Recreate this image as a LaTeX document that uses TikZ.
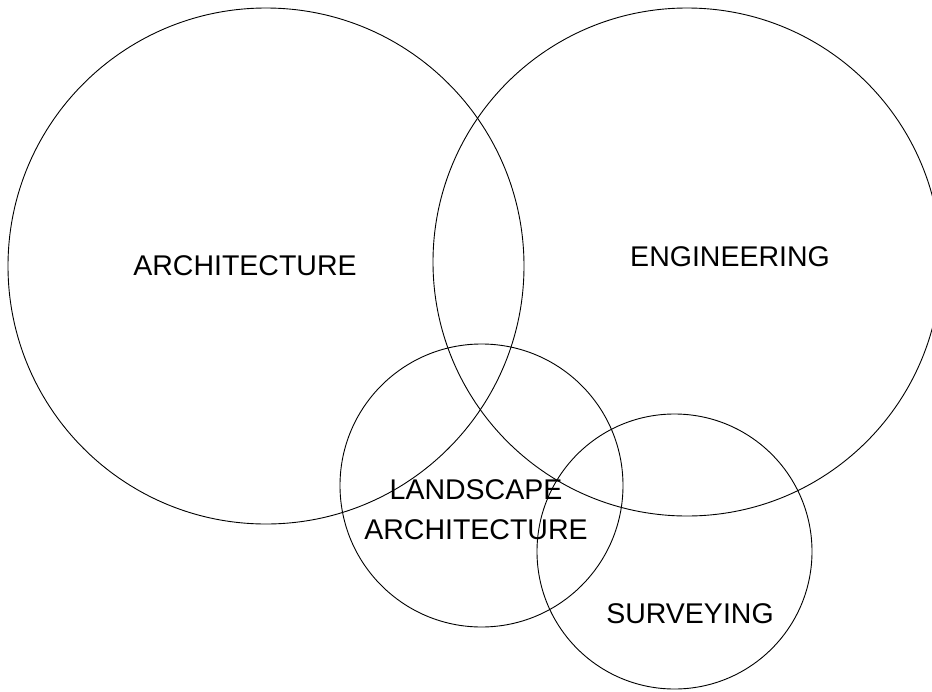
\documentclass[tikz,border=0pt]{standalone}
\usepackage{fontspec}
\setmainfont{Liberation Sans}

\begin{document}
\begin{tikzpicture}[x=1pt,y=-1pt,line width=0.9pt,
	field/.style={font=\fontsize{28.5}{40}\selectfont,align=center,inner sep=0pt}]
\useasboundingbox (0,0) rectangle (932,691);
\clip (0,0) rectangle (932,691);

%========================================
% Circles
%========================================
% Architecture
\draw (266,266) circle (258);
% Engineering
\draw (687,262) circle (254);
% Landscape architecture
\draw (481.5,485.5) circle (141.5);
% Surveying
\draw (674.5,551.5) circle (137.5);

%========================================
% Labels
%========================================
\node[field] (arch) at (245,266) {ARCHITECTURE};
\node[field] (eng) at (730,257) {ENGINEERING};
\node[field] (land) at (476,510) {LANDSCAPE\\ARCHITECTURE};
\node[field] (surv) at (690,614) {SURVEYING};
\end{tikzpicture}
\end{document}
